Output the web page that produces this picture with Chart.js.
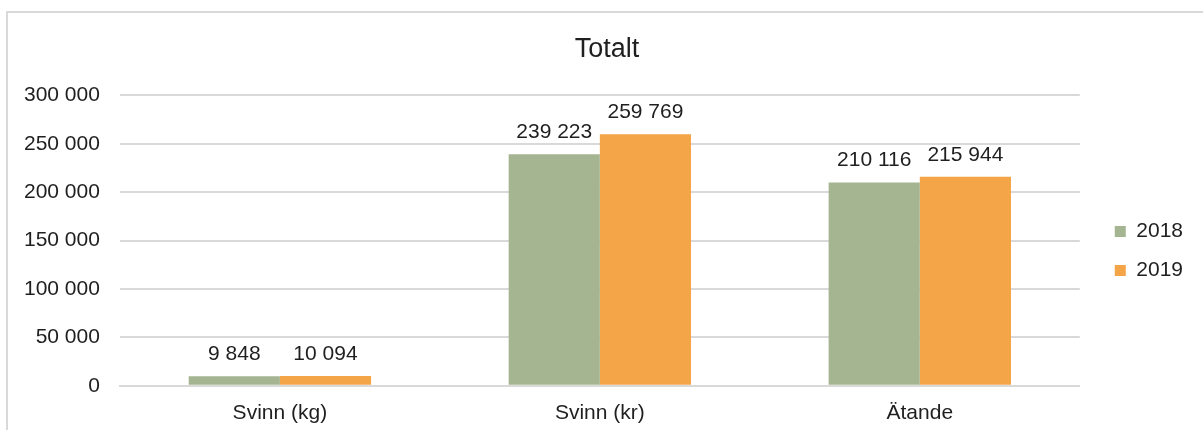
<!DOCTYPE html>
<html>
<head>
<meta charset="utf-8">
<script src="https://cdn.jsdelivr.net/npm/chart.js@4.4.1/dist/chart.umd.min.js"></script>
<style>
  html, body { margin: 0; padding: 0; background: #fff; overflow: hidden; }
  #wrap { position: relative; width: 1203px; height: 430px; overflow: hidden; }
  #frame { position: absolute; left: 6px; top: 11px; width: 1220px; height: 440px; border: 2px solid #d9d9d9; box-sizing: border-box; }
  canvas { position: absolute; left: 0; top: 0; }
</style>
</head>
<body>
<div id="wrap">
  <div id="frame"></div>
  <canvas id="totaltChart" width="1203" height="435"></canvas>
</div>
<script>
// Data
var categories = ['Svinn (kg)', 'Svinn (kr)', 'Ätande'];
var values2018 = [9848, 239223, 210116];
var values2019 = [10094, 259769, 215944];
var seriesNames = ['2018', '2019'];

var textColor = '#1f1f1f';

function fmt(n) {
    return String(Math.round(n)).replace(/\B(?=(\d{3})+(?!\d))/g, ' ');
}

// Draw value labels above each bar
var barLabels = {
    id: 'barLabels',
    afterDatasetsDraw: function (chart) {
        var ctx = chart.ctx;
        ctx.save();
        ctx.font = '21px "Liberation Sans", Arial, sans-serif';
        ctx.fillStyle = textColor;
        ctx.textAlign = 'center';
        ctx.textBaseline = 'alphabetic';
        chart.data.datasets.forEach(function (ds, i) {
            chart.getDatasetMeta(i).data.forEach(function (bar, j) {
                ctx.fillText(fmt(ds.data[j]), bar.x, bar.y - 16);
            });
        });
        ctx.restore();
    }
};

// Nudge legend and title to where the original has them
var boxShift = {
    id: 'boxShift',
    afterLayout: function (chart) {
        var lg = chart.legend;
        if (lg) {
            lg.left += 17; lg.right += 17;
            lg.top += 18; lg.bottom += 18;
        }
        var tb = chart.titleBlock;
        if (tb) {
            tb.left += 17; tb.right += 17;
        }
    }
};

Chart.defaults.font.family = '"Liberation Sans", Arial, sans-serif';
Chart.defaults.color = textColor;

new Chart(document.getElementById('totaltChart'), {
    type: 'bar',
    data: {
        labels: categories,
        datasets: [{
            label: seriesNames[0],
            data: values2018,
            backgroundColor: '#a5b592'
        }, {
            label: seriesNames[1],
            data: values2019,
            backgroundColor: '#f4a547'
        }]
    },
    options: {
        responsive: false,
        animation: false,
        layout: { padding: { left: 4, right: 27, top: 33, bottom: 2 } },
        datasets: { bar: { categoryPercentage: 0.57, barPercentage: 1 } },
        plugins: {
            title: {
                display: true,
                text: 'Totalt',
                color: textColor,
                font: { size: 27, weight: 'normal' },
                padding: { top: 0, bottom: 30 }
            },
            legend: {
                position: 'right',
                labels: {
                    boxWidth: 11,
                    boxHeight: 11,
                    padding: 18,
                    color: textColor,
                    font: { size: 21 }
                }
            },
            tooltip: { enabled: false }
        },
        scales: {
            x: {
                grid: { display: false },
                border: { color: '#d9d9d9', width: 2 },
                ticks: { font: { size: 21 }, padding: 7, color: textColor }
            },
            y: {
                min: 0,
                max: 300000,
                grid: { color: '#d9d9d9', lineWidth: 2, drawTicks: false },
                border: { display: false },
                ticks: {
                    stepSize: 50000,
                    padding: 20,
                    font: { size: 21 },
                    color: textColor,
                    callback: function (v) { return fmt(v); }
                }
            }
        }
    },
    plugins: [barLabels, boxShift]
});
</script>
</body>
</html>
